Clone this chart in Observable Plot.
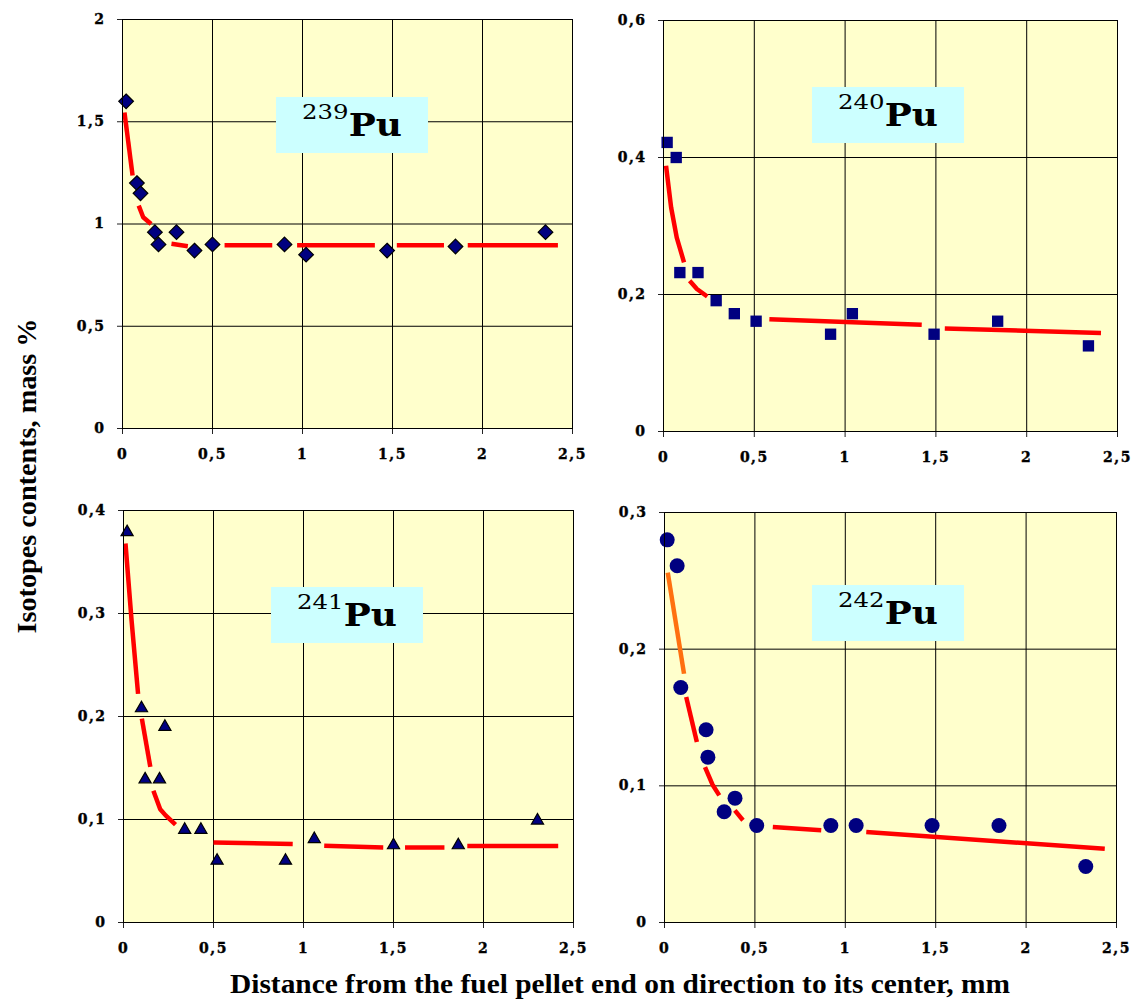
<!DOCTYPE html>
<html>
<head>
<meta charset="utf-8">
<script src="https://cdn.jsdelivr.net/npm/d3@7"></script>
<script src="https://cdn.jsdelivr.net/npm/@observablehq/plot@0.6"></script>
<style>
  body { margin: 0; background: #fff; }
  #root { position: relative; width: 1136px; height: 1006px; overflow: hidden; background: #fff; }
  .panel { position: absolute; }
  .panel svg { overflow: visible; background: transparent; }
  .panel svg text { letter-spacing: 1.5px; font-weight: bold; font-family: "DejaVu Serif", serif; font-size: 14px;
                    stroke: #000; stroke-width: 0.4px; }
  .label { position: absolute; width: 152px; height: 56px; background: #ccffff; text-align: center;
           line-height: 56px; font-family: "DejaVu Serif", serif; color: #000; white-space: nowrap; }
  .label .wrap { display: inline-block; transform: scaleX(1.16); }
  .label .iso { font-size: 21px; line-height: 1; position: relative; top: -17px; }
  .label .el { font-size: 31px; font-weight: bold; }
  #titles { position: absolute; left: 0; top: 0; pointer-events: none; }
</style>
</head>
<body>
<div id="root"></div>
<script>
// ---------- data ----------
const xTicks = [0, 0.5, 1, 1.5, 2, 2.5];
const isotopes = ["239", "240", "241", "242"];

const pu239Ticks = [0, 0.5, 1, 1.5, 2];
const pu239X = [0.02, 0.08, 0.10, 0.18, 0.20, 0.30, 0.40, 0.50, 0.90, 1.02, 1.47, 1.85, 2.35];
const pu239Y = [1.60, 1.20, 1.15, 0.96, 0.90, 0.96, 0.87, 0.90, 0.90, 0.85, 0.87, 0.89, 0.96];
const pu239Trend = [
  [1, 0.011, 1.545], [1, 0.056, 1.237],
  [2, 0.090, 1.090], [2, 0.115, 1.033], [2, 0.159, 1.000],
  [3, 0.272, 0.903], [3, 0.363, 0.891],
  [4, 0.567, 0.896], [4, 0.832, 0.896],
  [5, 0.970, 0.896], [5, 1.402, 0.896],
  [6, 1.524, 0.896], [6, 1.786, 0.896],
  [7, 1.918, 0.896], [7, 2.419, 0.896]
];

const pu240Ticks = [0, 0.2, 0.4, 0.6];
const pu240X = [0.02, 0.07, 0.09, 0.19, 0.29, 0.39, 0.51, 0.92, 1.04, 1.49, 1.84, 2.34];
const pu240Y = [0.422, 0.400, 0.232, 0.232, 0.191, 0.172, 0.161, 0.142, 0.172, 0.142, 0.161, 0.125];
const pu240Trend = [
  [1, 0.014, 0.388], [1, 0.042, 0.327], [1, 0.073, 0.283], [1, 0.113, 0.247],
  [2, 0.144, 0.220], [2, 0.184, 0.208], [2, 0.241, 0.197],
  [3, 0.583, 0.164], [3, 1.422, 0.156],
  [4, 1.549, 0.1505], [4, 2.409, 0.1437]
];

const pu241Ticks = [0, 0.1, 0.2, 0.3, 0.4];
const pu241X = [0.02, 0.10, 0.12, 0.20, 0.23, 0.34, 0.43, 0.52, 0.90, 1.06, 1.50, 1.86, 2.30];
const pu241Y = [0.379, 0.208, 0.139, 0.139, 0.190, 0.090, 0.090, 0.060, 0.060, 0.081, 0.075, 0.075, 0.099];
const pu241Trend = [
  [1, 0.011, 0.368], [1, 0.045, 0.293], [1, 0.081, 0.222],
  [2, 0.102, 0.198], [2, 0.149, 0.151],
  [3, 0.166, 0.128], [3, 0.204, 0.110], [3, 0.234, 0.104], [3, 0.289, 0.095],
  [4, 0.500, 0.0777], [4, 0.940, 0.0761],
  [5, 1.115, 0.0745], [5, 1.443, 0.0729],
  [6, 1.564, 0.0729], [6, 1.783, 0.0729],
  [7, 1.910, 0.0742], [7, 2.415, 0.0742]
];

const pu242Ticks = [0, 0.1, 0.2, 0.3];
const pu242X = [0.015, 0.07, 0.09, 0.23, 0.24, 0.33, 0.39, 0.51, 0.92, 1.06, 1.48, 1.85, 2.33];
const pu242Y = [0.280, 0.261, 0.172, 0.141, 0.121, 0.081, 0.091, 0.071, 0.071, 0.071, 0.071, 0.071, 0.041];
const pu242Trend = [
  [1, 0.018, 0.256], [1, 0.108, 0.182],
  [2, 0.120, 0.165], [2, 0.179, 0.132],
  [3, 0.224, 0.1137], [3, 0.265, 0.101], [3, 0.303, 0.093],
  [4, 0.389, 0.082], [4, 0.434, 0.0748],
  [5, 0.599, 0.0699], [5, 0.867, 0.0675],
  [6, 1.116, 0.0662], [6, 2.435, 0.054]
];

const yTitle = "Isotopes contents, mass %";
const xTitle = "Distance from the fuel pellet end on direction to its center, mm";

// ---------- drawing ----------
const root = document.getElementById("root");
const fmt = d => String(d).replace(".", ",");
const tickFont = {fontSize: 14, fontWeight: "bold", fontFamily: "'DejaVu Serif', serif", fill: "#000"};

function panel(cfg) {
  const pts = cfg.xs.map((x, i) => ({x, y: cfg.ys[i]}));
  const trend = cfg.trend.map(([s, x, y]) => ({s, x, y}));
  const chart = Plot.plot({
    width: cfg.w, height: cfg.h,
    marginLeft: cfg.ml, marginRight: cfg.mr, marginTop: cfg.mt, marginBottom: cfg.mb,
    style: {background: "transparent", overflow: "visible"},
    x: {domain: [0, 2.5]},
    y: {domain: [0, cfg.yTicks[cfg.yTicks.length - 1]]},
    marks: [
      Plot.frame({fill: "#ffffcc", stroke: null}),
      Plot.gridX(xTicks, {stroke: "#000", strokeOpacity: 1, strokeWidth: 1}),
      Plot.gridY(cfg.yTicks, {stroke: "#000", strokeOpacity: 1, strokeWidth: 1}),
      Plot.axisX(xTicks, {tickFormat: fmt, tickSize: 6, tickPadding: 15, stroke: "#222", label: null, ...tickFont}),
      Plot.axisY(cfg.yTicks, {tickFormat: fmt, tickSize: 5, tickPadding: 12, stroke: "#222", label: null, ...tickFont}),
      Plot.line(trend, {x: "x", y: "y", z: "s",
        stroke: d => (cfg.firstColor && d.s === 1) ? cfg.firstColor : "#ff0000",
        strokeWidth: 4.5, strokeLinecap: "butt", strokeLinejoin: "round"}),
      Plot.dot(pts, {x: "x", y: "y", symbol: cfg.symbol, r: cfg.r, fill: "#000080",
        stroke: cfg.outline ? "#000" : "none", strokeWidth: 1.2}),
      Plot.frame({stroke: "#000", strokeWidth: 1})
    ],
    color: {type: "identity"}
  });
  const div = document.createElement("div");
  div.className = "panel";
  div.style.left = cfg.left + "px";
  div.style.top = cfg.top + "px";
  div.style.width = cfg.w + "px";
  div.style.height = cfg.h + "px";
  div.appendChild(chart);
  root.appendChild(div);

  const lab = document.createElement("div");
  lab.className = "label";
  lab.style.left = cfg.box[0] + "px";
  lab.style.top = cfg.box[1] + "px";
  lab.innerHTML = `<span class="wrap"><span class="iso">${cfg.iso}</span><span class="el">Pu</span></span>`;
  root.appendChild(lab);
}

panel({left: 0, top: 0, w: 580, h: 475, ml: 122, mr: 8, mt: 19, mb: 47,
  yTicks: pu239Ticks, xs: pu239X, ys: pu239Y, trend: pu239Trend,
  symbol: "diamond2", r: 6.6, outline: true, iso: isotopes[0], box: [276, 97]});
panel({left: 560, top: 0, w: 576, h: 475, ml: 103, mr: 19, mt: 20, mb: 44,
  yTicks: pu240Ticks, xs: pu240X, ys: pu240Y, trend: pu240Trend,
  symbol: "square", r: 6.4, outline: false, iso: isotopes[1], box: [812, 87]});
panel({left: 0, top: 480, w: 580, h: 480, ml: 123, mr: 7, mt: 30, mb: 38,
  yTicks: pu241Ticks, xs: pu241X, ys: pu241Y, trend: pu241Trend,
  symbol: "triangle", r: 4.5, outline: true, iso: isotopes[2], box: [271, 587]});
panel({left: 560, top: 480, w: 576, h: 480, ml: 104, mr: 20, mt: 32, mb: 38,
  yTicks: pu242Ticks, xs: pu242X, ys: pu242Y, trend: pu242Trend,
  symbol: "circle", r: 7.5, outline: false, iso: isotopes[3], box: [812, 585], firstColor: "#ff7010"});

// axis titles
const svgNS = "http://www.w3.org/2000/svg";
const titles = document.createElementNS(svgNS, "svg");
titles.setAttribute("id", "titles");
titles.setAttribute("width", 1136);
titles.setAttribute("height", 1006);
function title(text, transform, len) {
  const t = document.createElementNS(svgNS, "text");
  t.setAttribute("transform", transform);
  t.setAttribute("text-anchor", "middle");
  t.setAttribute("font-family", "'Liberation Serif', 'Times New Roman', serif");
  t.setAttribute("font-weight", "bold");
  t.setAttribute("font-size", 28);
  t.setAttribute("textLength", len);
  t.setAttribute("lengthAdjust", "spacingAndGlyphs");
  t.textContent = text;
  titles.appendChild(t);
}
title(yTitle, "translate(36,476) rotate(-90)", 315);
title(xTitle, "translate(620,993)", 780);
root.appendChild(titles);
</script>
</body>
</html>
